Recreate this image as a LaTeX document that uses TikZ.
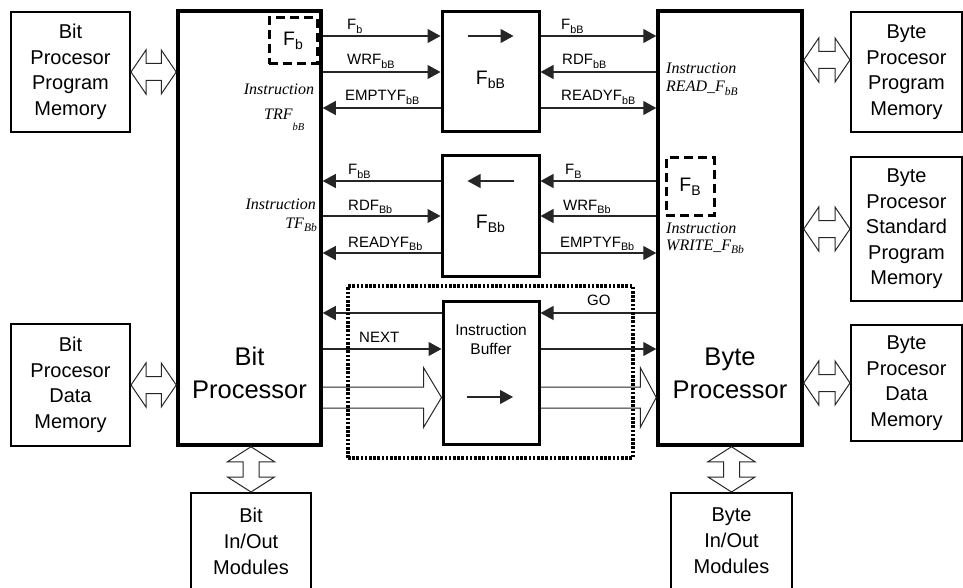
\documentclass[tikz,border=0pt]{standalone}
\usepackage{fontspec}
\setmainfont{Liberation Sans}
\newfontfamily\tms{Liberation Serif}
\usetikzlibrary{arrows.meta,calc}
\newcommand\fs[2]{\fontsize{#1}{#2}\selectfont}
\newcommand\lowsub[1]{\raisebox{-0.22em}{\scalebox{0.72}{#1}}}
\newcommand\hollowh[2]{\draw[hol] (#1) -- ($(#1)+(15,-22)$) -- ($(#1)+(15,-8.5)$) -- ($(#2)+(-15,-8.5)$) -- ($(#2)+(-15,-22)$) -- (#2) -- ($(#2)+(-15,22)$) -- ($(#2)+(-15,8.5)$) -- ($(#1)+(15,8.5)$) -- ($(#1)+(15,22)$) -- cycle;}
\newcommand\hollowv[2]{\draw[hol] (#1) -- ($(#1)+(23.5,15)$) -- ($(#1)+(8,15)$) -- ($(#2)+(8,-15)$) -- ($(#2)+(23.5,-15)$) -- (#2) -- ($(#2)+(-23.5,-15)$) -- ($(#2)+(-8,-15)$) -- ($(#1)+(-8,15)$) -- ($(#1)+(-23.5,15)$) -- cycle;}
\newcommand\hollowr[3]{\draw[hol] ($(#1)+(0,-10.5)$) -- ($(#2)+(-#3,-10.5)$) -- ($(#2)+(-#3,-30)$) -- (#2) -- ($(#2)+(-#3,30)$) -- ($(#2)+(-#3,10.5)$) -- ($(#1)+(0,10.5)$);}
\begin{document}
\begin{tikzpicture}[x=1pt,y=-1pt,
  proc/.style={draw, line width=3.5pt, inner sep=0pt},
  mem/.style={draw, line width=2pt, align=center, inner sep=0pt, font=\fs{20}{25.5}},
  memtext/.style={align=center, inner sep=0pt, font=\fs{20}{26}},
  fbox/.style={draw, line width=3pt, inner sep=0pt},
  dbox/.style={draw, line width=3pt, dash pattern=on 9pt off 5pt, inner sep=0pt, font=\fs{19.5}{22}},
  dotbox/.style={draw, line width=3.2pt, dash pattern=on 2.6pt off 1.6pt, inner sep=0pt},
  sig/.style={line width=1.2pt, draw=black!85, -{Triangle[length=13pt,width=14pt]}},
  lbl/.style={font=\fs{15}{16}, anchor=base west, inner sep=0pt},
  ins/.style={font=\tms\itshape\fs{16}{18}, inner sep=0pt},
  bigt/.style={font=\fs{25.5}{33}, align=center, inner sep=0pt},
  hol/.style={draw=black!85, line width=1pt}
]
\useasboundingbox (0,0) rectangle (963,588);

% processors
\node[proc, minimum width=143pt, minimum height=434pt] (bit) at (249.5,228) {};
\node[proc, minimum width=144pt, minimum height=434pt] (byte) at (730,228) {};
\node[bigt] (bitT) at (249.5,373) {Bit\\Processor};
\node[bigt] (byteT) at (730,373) {Byte\\Processor};

% memories left
\node[mem, minimum width=119pt, minimum height=120pt] (pm) at (70.5,72) {Bit\\Procesor\\Program\\Memory};
\node[mem, minimum width=119pt, minimum height=122pt] (pdm) at (70.5,385) {Bit\\Procesor\\Data\\Memory};
% memories right
\node[mem, minimum width=111pt, minimum height=120pt] (bpm) at (906.5,72) {Byte\\Procesor\\Program\\Memory};
\node[mem, minimum width=111pt, minimum height=144pt] (bspm) at (906.5,229) {Byte\\Procesor\\Standard\\Program\\Memory};
\node[mem, minimum width=111pt, minimum height=116pt] (bdm) at (906.5,383) {Byte\\Procesor\\Data\\Memory};
% in/out
\node[mem, minimum width=120pt, minimum height=110pt] (bio) at (251,548) {};
\node[memtext] (bioT) at (251,541) {Bit\\In/Out\\Modules};
\node[mem, minimum width=121pt, minimum height=110pt] (byio) at (731.5,548) {};
\node[memtext] (byioT) at (731.5,541) {Byte\\In/Out\\Modules};

% FIFO boxes
\node[fbox, minimum width=97pt, minimum height=120pt] (fbB) at (490.5,72) {};
\node[font=\fs{19.5}{22}, inner sep=0pt] (fbBt) at (490.5,80) {F\lowsub{bB}};
\node[fbox, minimum width=97pt, minimum height=120pt] (fBb) at (490.5,216) {};
\node[font=\fs{19.5}{22}, inner sep=0pt] (fBbt) at (490.5,224) {F\lowsub{Bb}};
\node[fbox, minimum width=96pt, minimum height=143pt] (ib) at (491,372.5) {};
\node[font=\fs{15.5}{19}, align=center, inner sep=0pt] (ibt) at (491,339) {Instruction\\Buffer};

% dashed flag boxes
\node[dbox, minimum width=48pt, minimum height=46pt] (fb) at (293,41) {F\lowsub{b}};
\node[dbox, minimum width=48pt, minimum height=57pt] (fB) at (690,186.5) {F\lowsub{B}};

% internal direction arrows
\draw[sig] ($(fbB.center)+(-23,-36)$) -- ($(fbB.center)+(23,-36)$);
\draw[sig] ($(fBb.center)+(23,-35)$) -- ($(fBb.center)+(-23,-35)$);
\draw[sig] ($(ib.center)+(-24,24.5)$) -- ($(ib.center)+(22,24.5)$);

% rows
\coordinate (r1) at (0,36);
\coordinate (r2) at (0,72);
\coordinate (r3) at (0,108);
\coordinate (r4) at (0,181);
\coordinate (r5) at (0,216);
\coordinate (r6) at (0,253);
\coordinate (r7) at (0,313);
\coordinate (r8) at (0,349);
\coordinate (r9) at (0,397.5);

% top group
\draw[sig] (bit.east |- r1) -- (fbB.west |- r1);
\draw[sig] (bit.east |- r2) -- (fbB.west |- r2);
\draw[sig] (fbB.west |- r3) -- (bit.east |- r3);
\draw[sig] (fbB.east |- r1) -- (byte.west |- r1);
\draw[sig] (byte.west |- r2) -- (fbB.east |- r2);
\draw[sig] (fbB.east |- r3) -- (byte.west |- r3);
\node[lbl] (l1) at (347,30) {F\lowsub{b}};
\node[lbl] (l2) at (347,65) {WRF\lowsub{bB}};
\node[lbl] (l3) at (345,101) {EMPTYF\lowsub{bB}};
\node[lbl] (l4) at (561,30) {F\lowsub{bB}};
\node[lbl] (l5) at (562,65) {RDF\lowsub{bB}};
\node[lbl] (l6) at (561,101) {READYF\lowsub{bB}};

% middle group
\draw[sig] (fBb.west |- r4) -- (bit.east |- r4);
\draw[sig] (bit.east |- r5) -- (fBb.west |- r5);
\draw[sig] (fBb.west |- r6) -- (bit.east |- r6);
\draw[sig] (byte.west |- r4) -- (fBb.east |- r4);
\draw[sig] (byte.west |- r5) -- (fBb.east |- r5);
\draw[sig] (fBb.east |- r6) -- (byte.west |- r6);
\node[lbl] (m1) at (348,175) {F\lowsub{bB}};
\node[lbl] (m2) at (348,210) {RDF\lowsub{Bb}};
\node[lbl] (m3) at (348,247) {READYF\lowsub{Bb}};
\node[lbl] (m4) at (565,175) {F\lowsub{B}};
\node[lbl] (m5) at (563,210) {WRF\lowsub{Bb}};
\node[lbl] (m6) at (560,247) {EMPTYF\lowsub{Bb}};

% bottom group
\draw[sig] (byte.west |- r7) -- (ib.east |- r7);
\draw[sig] (ib.west |- r7) -- (bit.east |- r7);
\draw[sig] (bit.east |- r8) -- (ib.west |- r8);
\draw[sig] (ib.east |- r8) -- (byte.west |- r8);
\node[lbl] (go) at (587,305) {GO};
\node[lbl] (nx) at (359,342) {NEXT};
\hollowr{bit.east |- r9}{ib.west |- r9}{18}
\hollowr{ib.east |- r9}{byte.west |- r9}{16}

% instruction labels
\node[ins, anchor=base] (i1) at (279,95) {Instruction};
\node[ins, anchor=base west] (i1b) at (264,120) {TRF\raisebox{-11pt}{\fs{10.5}{12}bB}};
\node[ins, anchor=base east] (i2) at (316,209) {Instruction};
\node[ins, anchor=base east] (i2b) at (317,228) {TF\lowsub{Bb}};
\node[ins, anchor=base west] (i3) at (666,74) {Instruction};
\node[ins, anchor=base west] (i3b) at (666,92) {READ\_F\lowsub{bB}};
\node[ins, anchor=base west] (i4) at (666,233) {Instruction};
\node[ins, anchor=base west] (i4b) at (666,250) {WRITE\_F\lowsub{Bb}};

% memory bus arrows
\hollowh{pm.east}{pm.east -| bit.west}
\hollowh{pdm.east}{pdm.east -| bit.west}
\coordinate (ra1) at ($(bpm.west)+(0,-12)$);
\hollowh{byte.east |- ra1}{ra1}
\hollowh{byte.east |- bspm.west}{bspm.west}
\hollowh{byte.east |- bdm.west}{bdm.west}
\hollowv{bio.north |- bit.south}{bio.north}
\hollowv{byio.north |- byte.south}{byio.north}

% dotted group
\node[dotbox, minimum width=285pt, minimum height=172pt] (grp) at (490.5,372) {};
\end{tikzpicture}
\end{document}
